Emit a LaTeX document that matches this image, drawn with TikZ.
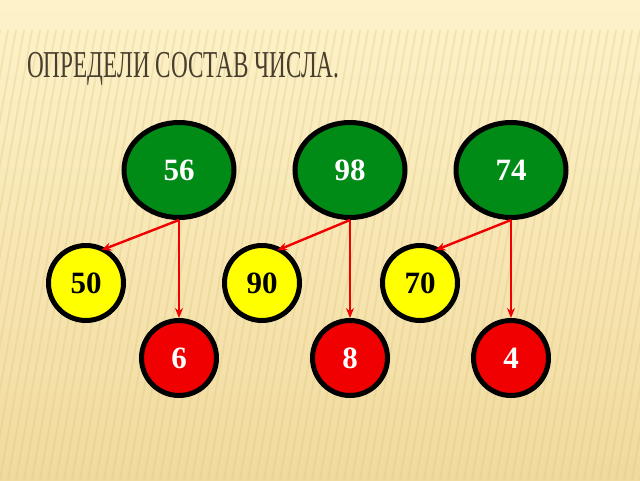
\documentclass[tikz,border=0pt]{standalone}
\usepackage{fontspec}
\setmainfont{Liberation Serif}
\usepackage{tikz}
\usetikzlibrary{arrows.meta,shapes}
\definecolor{leafgreen}{RGB}{0,138,22}
\definecolor{lemon}{RGB}{255,255,0}
\definecolor{scarlet}{RGB}{240,0,0}
\definecolor{sandtop}{RGB}{253,242,202}
\definecolor{sandmid}{RGB}{248,231,181}
\definecolor{sandlow}{RGB}{240,218,158}
\definecolor{stripe}{RGB}{222,196,120}
\definecolor{titleink}{RGB}{72,62,46}

\begin{document}
\begin{tikzpicture}[x=1pt,y=-1pt,
	num/.style={draw=black,line width=5pt,inner sep=0pt,font=\fontsize{31}{31}\selectfont\bfseries},
	whole/.style={num,ellipse,fill=leafgreen,text=white,minimum width=110pt,minimum height=95pt},
	tens/.style={num,circle,fill=lemon,text=black,minimum size=75pt},
	ones/.style={num,circle,fill=scarlet,text=white,minimum size=75pt},
	split/.style={-{Stealth[length=10pt,width=8pt]},draw=scarlet,line width=2.4pt}]
		\useasboundingbox (0,0) rectangle (640,480);
		% background
		\shade[top color=sandtop,bottom color=sandlow,middle color=sandmid] (0,0) rectangle (640,480);
		\begin{scope}
			\clip (0,30) rectangle (640,480);
			\foreach \s in {-15,...,80}
				\draw[stripe,opacity=.3,line width=1.8pt] (\s*8,480) -- (\s*8+80,30);
		\end{scope}
		\node[anchor=base west,text=titleink,xscale=.61,font=\fontsize{38}{38}\selectfont] (title) at (25,77) {ОПРЕДЕЛИ СОСТАВ ЧИСЛА.};
		% numbers
		\node[whole] (g56) at (179,170) {56};
		\node[whole] (g98) at (350,170) {98};
		\node[whole] (g74) at (511,170) {74};
		\node[tens] (y50) [below of=g56,node distance=113pt,xshift=-93pt] {50};
		\node[tens] (y90) [below of=g98,node distance=113pt,xshift=-88pt] {90};
		\node[tens] (y70) [below of=g74,node distance=113pt,xshift=-91pt] {70};
		\node[ones] (r6) [below of=g56,node distance=188pt] {6};
		\node[ones] (r8) [below of=g98,node distance=188pt] {8};
		\node[ones] (r4) [below of=g74,node distance=188pt] {4};
		\draw[split,shorten >=-5pt] (g56.south) -- (y50.60);
		\draw[split] (g56.south) -- (r6.north);
		\draw[split,shorten >=-5pt] (g98.south) -- (y90.60);
		\draw[split] (g98.south) -- (r8.north);
		\draw[split,shorten >=-5pt] (g74.south) -- (y70.60);
		\draw[split] (g74.south) -- (r4.north);
	\end{tikzpicture}
\end{document}
